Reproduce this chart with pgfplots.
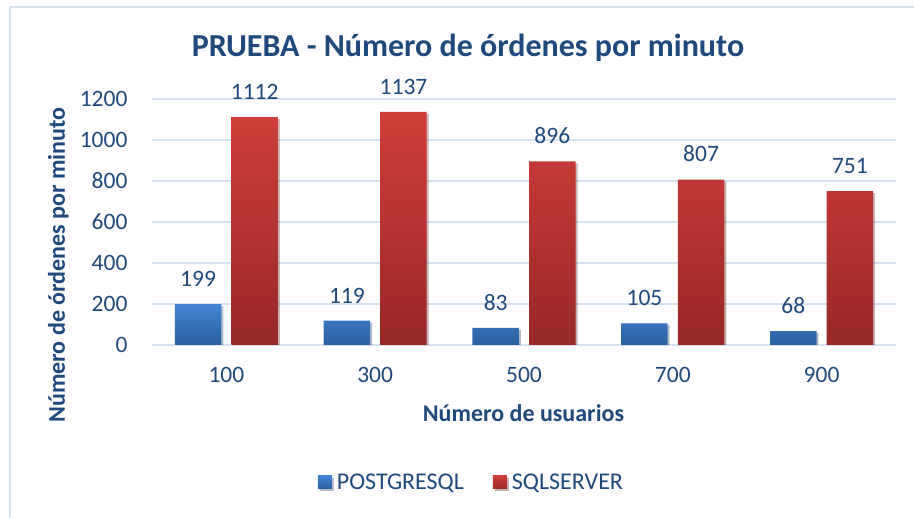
\documentclass[border=0pt]{standalone}
\usepackage{fontspec}
\setmainfont{Carlito}
\usepackage{pgfplots}
\pgfplotsset{compat=1.18}
\usetikzlibrary{shadows}

\definecolor{txtblue}{RGB}{31,73,125}
\definecolor{gridc}{RGB}{214,226,240}
\definecolor{framec}{RGB}{218,226,236}
\definecolor{bluetop}{RGB}{66,133,212}
\definecolor{bluebot}{RGB}{44,94,158}
\definecolor{redtop}{RGB}{208,62,58}
\definecolor{redbot}{RGB}{152,40,38}

\begin{document}
\begin{tikzpicture}
\useasboundingbox (-152pt,-173pt) rectangle (762pt,345pt);
\fill[white] (-152pt,-173pt) rectangle (762pt,345pt);
\draw[framec, line width=1.5pt] (-142pt,-180pt) -- (-142pt,338pt) -- (770pt,338pt);
\begin{axis}[
    at={(0pt,0pt)}, anchor=south west,
    scale only axis,
    width=744pt, height=246pt,
    xmin=-0.5, xmax=4.5,
    ymin=0, ymax=1200,
    ytick={0,200,400,600,800,1000,1200},
    xtick=data,
    xticklabels={100,300,500,700,900},
    axis line style={draw=none},
    major tick style={draw=none},
    ymajorgrids=true,
    grid style={gridc, line width=1.3pt},
    /pgf/number format/assume math mode=true,
    /pgf/number format/1000 sep={},
    ticklabel style={font=\fontsize{23.5}{28}\selectfont, text=txtblue},
    xticklabel style={anchor=center, yshift=-26pt},
    yticklabel style={anchor=east, xshift=-21pt},
    ybar, bar width=46.5pt,
    nodes near coords,
    nodes near coords style={font=\fontsize{23.5}{28}\selectfont, text=txtblue, yshift=14pt},
    title={PRUEBA - Número de órdenes por minuto},
    title style={font=\bfseries\fontsize{32}{38}\selectfont, text=txtblue,
        at={(axis description cs:0.4247,1.185)}, anchor=center},
    xlabel={Número de usuarios},
    xlabel style={font=\bfseries\fontsize{24}{29}\selectfont, text=txtblue,
        at={(axis description cs:0.4993,-0.276)}, anchor=center},
    ylabel={Número de órdenes por minuto},
    ylabel style={font=\bfseries\fontsize{24}{29}\selectfont, text=txtblue,
        at={(axis description cs:-0.126,0.325)}, anchor=center},
    legend columns=2,
    legend style={draw=none, fill=none, font=\fontsize{24}{29}\selectfont, text=txtblue,
        at={(axis description cs:0.4294,-0.557)}, anchor=center,
        /tikz/every even column/.append style={column sep=27pt}},
    barshadow/.style={drop shadow={shadow xshift=2pt, shadow yshift=-2pt, opacity=0.18, fill=black}},
]
\addplot[draw=none, top color=bluetop, bottom color=bluebot, bar shift=-28.3pt, barshadow,
    legend image code/.code={\shade[top color=bluetop, bottom color=bluebot] (0pt,-6.5pt) rectangle (14pt,6.5pt); \path (17pt,0pt);}]
    coordinates {(0,199) (1,119) (2,83) (3,105) (4,68)};
\addplot[draw=none, top color=redtop, bottom color=redbot, bar shift=28.3pt, barshadow,
    legend image code/.code={\shade[top color=redtop, bottom color=redbot] (0pt,-6.5pt) rectangle (14pt,6.5pt); \path (17pt,0pt);}]
    coordinates {(0,1112) (1,1137) (2,896) (3,807) (4,751)};
\legend{POSTGRESQL, SQLSERVER}
\end{axis}
\end{tikzpicture}
\end{document}
